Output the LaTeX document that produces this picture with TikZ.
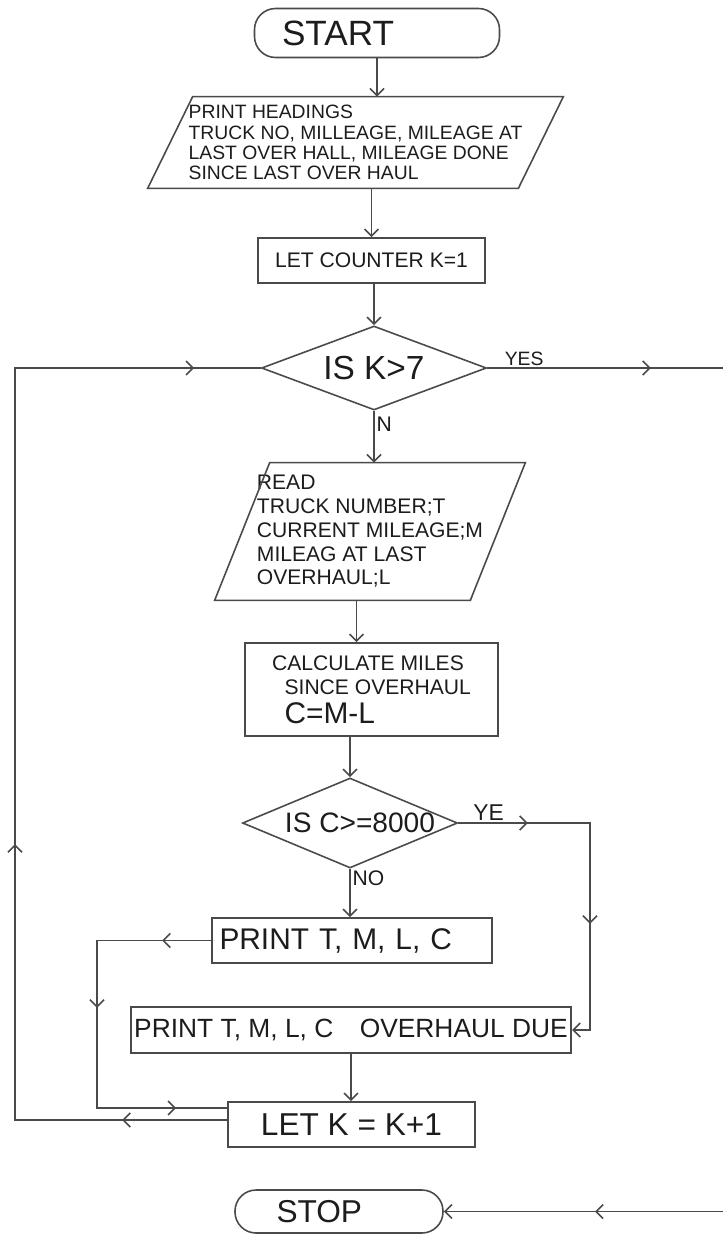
\documentclass[tikz,border=0pt]{standalone}
\usepackage{fontspec}
\setsansfont{Liberation Sans}
\usepackage{tikz}
\usetikzlibrary{shapes.geometric, arrows.meta, positioning, calc, decorations.markings}
\definecolor{Pencil}{HTML}{4A4A4A}
\definecolor{Ink}   {HTML}{1C1C1C}
\tikzset{
  >={Straight Barb[length=4pt,width=8pt]},
  blk/.style={draw=Pencil, line width=0.9pt, align=center, text=Ink, inner sep=2pt},
  term/.style={blk, rounded corners=12pt},
  io/.style={align=left, text=Ink, inner sep=0pt},
  dec/.style={blk, diamond, inner sep=0pt},
  lin/.style={draw=Pencil, line width=0.9pt},
  arr/.style={lin, ->},
  mk/.style={postaction={decorate, decoration={markings,
             mark=at position #1 with {\arrow[Pencil]{>}}}}},
  lbl/.style={text=Ink, inner sep=1pt}
}
\newcommand\fs[1]{\sffamily\fontsize{#1}{#1}\selectfont}
\newcommand\slantbox[2]{\draw[lin] ([xshift=#2]#1.north west) -- (#1.north east)
  -- ([xshift=-#2]#1.south east) -- (#1.south west) -- cycle;}

\begin{document}
\begin{tikzpicture}
  \useasboundingbox (0,0) rectangle (14.46,-24.68);
  \node[term,minimum width=4.9cm,minimum height=0.98cm,text width=3.8cm,align=left,
        font=\fs{20}] (S) at (7.54,-0.66) {START};
  \node[io,minimum width=8.3cm,minimum height=1.82cm,font=\sffamily\fontsize{11}{11.5}\selectfont]
    (PH) at (7.11,-2.85)
    {PRINT HEADINGS\\TRUCK NO, MILLEAGE, MILEAGE AT\\LAST OVER HALL, MILEAGE DONE\\SINCE LAST OVER HAUL};
  \node[blk,minimum width=4.54cm,minimum height=0.9cm,font=\fs{12}] (K1) at (7.43,-5.21)
    {LET COUNTER K=1};
  \node[dec,minimum width=4.5cm,minimum height=1.68cm,font=\fs{19}] (D1) at (7.48,-7.36)
    {\makebox[0pt]{IS K>7}};
  \node[io,minimum width=6.2cm,minimum height=2.74cm,font=\sffamily\fontsize{12}{13.5}\selectfont]
    (RD) at (7.4,-10.63)
    {READ\\TRUCK NUMBER;T\\CURRENT MILEAGE;M\\MILEAG AT LAST\\OVERHAUL;L};
  \node[blk,align=left,minimum width=5.06cm,minimum height=1.86cm,
        font=\sffamily\fontsize{12}{13.5}\selectfont] (CM) at (7.43,-13.79)
    {CALCULATE MILES\\\hspace{0.25cm}SINCE OVERHAUL\\[3pt]\hspace{0.25cm}{\fontsize{17}{19}\selectfont C=M-L}};
  \node[dec,minimum width=4.3cm,minimum height=1.8cm,font=\fs{16}] (D2) at (7.0,-16.46)
    {\makebox[0pt]{\hspace{0.4cm}IS C>=8000}};
  \node[blk,minimum width=5.6cm,minimum height=0.9cm,text width=5.3cm,align=left,
        font=\fs{17}] (P1) at (7.04,-18.81) {PRINT T, M, L, C};
  \node[blk,minimum width=8.64cm,minimum height=0.92cm,font=\fs{15}] (P2) at (7.02,-20.6)
    {PRINT T, M, L, C\quad OVERHAUL DUE};
  \node[blk,minimum width=4.94cm,minimum height=0.9cm,font=\fs{18}] (K2) at (7.03,-22.49)
    {LET K = K+1};
  \node[term,minimum width=4.16cm,minimum height=0.86cm,text width=2.5cm,align=left,
        font=\fs{18}] (T) at (6.78,-24.23) {STOP};
  \slantbox{PH}{0.9cm}
  \slantbox{RD}{1.1cm}

  \coordinate (LX) at (0.3,0);
  \coordinate (PX) at (1.94,0);
  \coordinate (YX) at (11.8,0);
  \coordinate (YE) at (14.46,-7.36);
  \coordinate (TE) at (14.46,-24.23);
  \coordinate (K2i) at ([yshift=0.33cm]K2.west);
  \coordinate (K2o) at ([yshift=0.09cm]K2.west);

  \draw[arr] (S.south) -- (S.south |- PH.north);
  \draw[arr] (K1.north |- PH.south) -- (K1.north);
  \draw[arr] (D1.north |- K1.south) -- (D1.north);
  \draw[arr] (D1.south) -- node[lbl,right,pos=0.25,font=\fs{12}]{N} (D1.south |- RD.north);
  \draw[arr] ([xshift=-0.3cm]CM.north |- RD.south) -- ([xshift=-0.3cm]CM.north);
  \draw[arr] (D2.north |- CM.south) -- (D2.north);
  \draw[arr] (D2.south) -- node[lbl,right,pos=0.2,font=\fs{12}]{NO} (D2.south |- P1.north);
  \draw[arr,mk=1.39cm,mk=4.65cm] (D2.east) -- node[lbl,above,pos=0.23,font=\fs{13}]{YE}
    (D2.east -| YX) |- (P2.east);
  \draw[arr] (P2.south) -- (P2.south |- K2.north);
  \draw[lin,mk=0.98cm,mk=3.63cm,mk=-1.02cm] (P1.west) -- (P1.west -| PX) |- (K2i);
  \draw[lin,mk=2.1cm,mk=9.76cm,mk=-1.33cm] (K2o) -- (K2o -| LX) |- (D1.west);
  \draw[lin,mk=3.27cm] (D1.east) -- node[lbl,above right,pos=0,xshift=0.3cm,font=\fs{11}]{YES} (YE);
  \draw[arr,mk=2.56cm] (TE) -- (T.east);
\end{tikzpicture}
\end{document}
